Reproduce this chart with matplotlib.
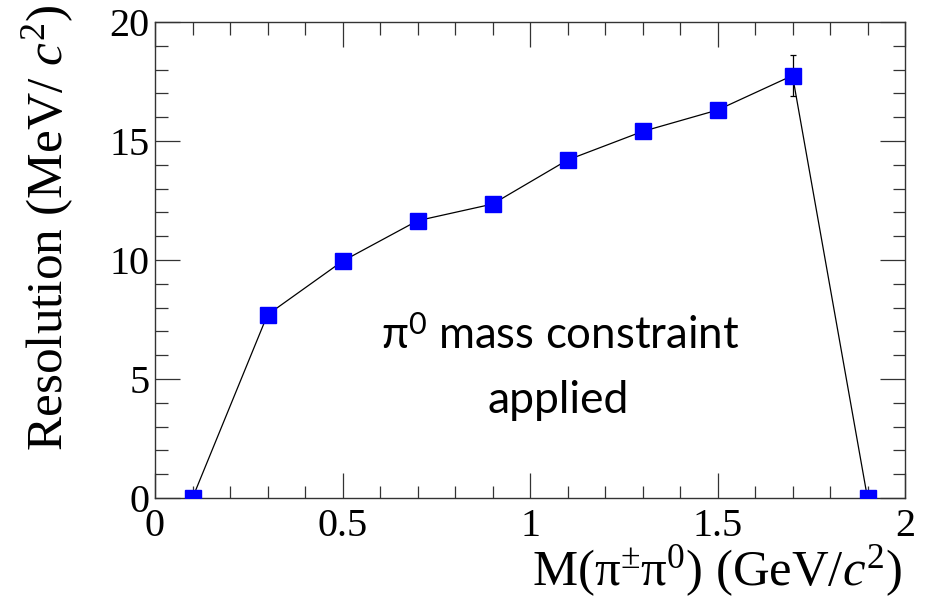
import matplotlib as mpl
import matplotlib.pyplot as plt
from matplotlib.ticker import MultipleLocator

mpl.rcParams['font.family'] = ['Liberation Serif', 'DejaVu Serif']
mpl.rcParams['mathtext.fontset'] = 'custom'
mpl.rcParams['mathtext.rm'] = 'Liberation Serif'
mpl.rcParams['mathtext.it'] = 'Liberation Serif:italic'

# data
mass = [0.1, 0.3, 0.5, 0.7, 0.9, 1.1, 1.3, 1.5, 1.7, 1.9]
resolution = [0.0, 7.7, 9.95, 11.65, 12.35, 14.2, 15.4, 16.3, 17.75, 0.0]
resolution_err = [0.0, 0.1, 0.1, 0.1, 0.1, 0.15, 0.15, 0.2, 0.87, 0.0]

fig = plt.figure(figsize=(9.33, 6.08), dpi=100)
ax = fig.add_axes([155/933, 1 - 498/608, 750/933, 476/608])

ax.errorbar(mass, resolution, yerr=resolution_err, color='black', linewidth=0.9,
            elinewidth=0.9, capsize=2.5, capthick=0.9, marker='s', markersize=11,
            markerfacecolor='#0000ff', markeredgecolor='#0000ff', zorder=3)

ax.set_xlim(0, 2)
ax.set_ylim(0, 20)
ax.xaxis.set_major_locator(MultipleLocator(0.5))
ax.xaxis.set_minor_locator(MultipleLocator(0.1))
ax.yaxis.set_major_locator(MultipleLocator(5))
ax.yaxis.set_minor_locator(MultipleLocator(1))
ax.set_xticks([0, 0.5, 1, 1.5, 2], ['0', '0.5', '1', '1.5', '2'])
ax.tick_params(which='both', direction='in', top=True, right=True,
               labelsize=29, width=0.9, color='#333333')
ax.tick_params(which='major', length=18)
ax.tick_params(which='minor', length=9)
ax.tick_params(axis='x', which='major', pad=7)
ax.tick_params(axis='y', which='major', pad=4)
for s in ax.spines.values():
    s.set_linewidth(1.0)
    s.set_color('#333333')

ax.set_xlabel(r'M(π$^{\pm}$π$^{0}$) (GeV/$c^{2}$)', fontsize=36.5, ha='right', va='baseline')
ax.xaxis.set_label_coords(0.996, -0.183)
ax.set_ylabel(r'Resolution (MeV/ $c^{2}$)', fontsize=37, ha='right', va='baseline')
ax.yaxis.set_label_coords(-0.124, 1.035)

ax.text(1.08, 6.26, r'π$^{\mathregular{0}}$ mass constraint', family='Lato',
        fontsize=31.5, ha='center', va='baseline')
ax.text(1.075, 3.57, 'applied', family='Lato',
        fontsize=32, ha='center', va='baseline')

fig.savefig('out.png', dpi=100)
